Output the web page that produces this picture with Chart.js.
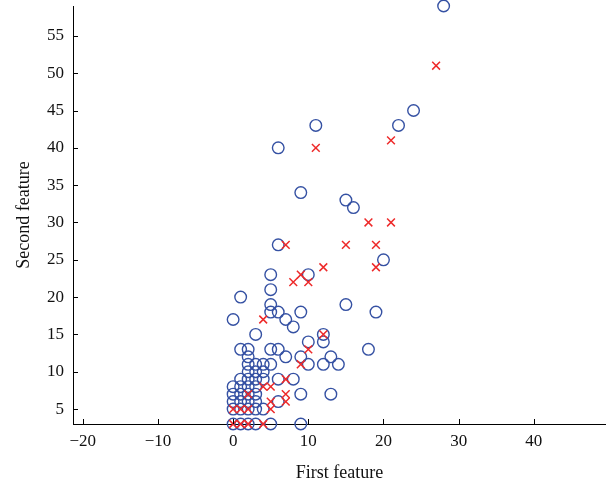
<!DOCTYPE html>
<html>
<head>
<meta charset="utf-8">
<script src="https://cdn.jsdelivr.net/npm/chart.js@4.4.1/dist/chart.umd.min.js"></script>
<style>
  html, body { margin: 0; padding: 0; background: #fff; overflow: hidden; }
  canvas { display: block; }
</style>
</head>
<body>
<canvas id="scatter" width="606" height="486"></canvas>
<script>
// class A (blue circles)
const circleX = [0,1,2,3,5,9, 0,1,2,3,4, 0,1,2,3,6, 0,1,2,3,9,13, 0,1,2,3,
  1,2,3,4,6,8, 2,3,4, 2,3,4,5,10,12,14, 2,7,9,13, 1,2,5,6,18, 10,12, 3,12,
  8, 0,7, 5,6,9,19, 5,15, 1, 5, 5,10, 20, 6, 16, 15, 9, 6, 11,22, 24, 28];
const circleY = [3,3,3,3,3,3, 5,5,5,5,5, 6,6,6,6,6, 7,7,7,7,7,7, 8,8,8,8,
  9,9,9,9,9,9, 10,10,10, 11,11,11,11,11,11,11, 12,12,12,12, 13,13,13,13,13, 14,14, 15,15,
  16, 17,17, 18,18,18,18, 19,19, 20, 21, 23,23, 25, 27, 32, 33, 34, 40, 43,43, 45, 59];

// class B (red crosses)
const crossX = [0,1,2,4, 0,1,2,5, 5,7, 2,7, 4,5, 7, 9, 10, 12, 4, 8,10, 9, 12,19, 7,15,19, 18,21, 11, 21, 27];
const crossY = [3,3,3,3, 5,5,5,5, 6,6, 7,7, 8,8, 9, 11, 13, 15, 17, 22,22, 23, 24,24, 27,27,27, 30,30, 40, 41, 51];

const xTickValues = [-20, -10, 0, 10, 20, 30, 40];
const yTickValues = [5, 10, 15, 20, 25, 30, 35, 40, 45, 50, 55];

const BLUE = "#3551a3";
const RED = "#ee2a2a";
const SERIF = "'Liberation Serif', 'DejaVu Serif', serif";

const toPoints = (xs, ys) => xs.map((x, i) => ({ x, y: ys[i] }));
const fmt = v => (v < 0 ? "\u2212" + Math.abs(v) : String(v));

// short tick marks pointing into the plot, matlab style
const innerTicks = {
  id: "innerTicks",
  afterDraw(chart) {
    const { ctx, chartArea, scales } = chart;
    ctx.save();
    ctx.strokeStyle = "#000";
    ctx.lineWidth = 1;
    ctx.beginPath();
    scales.x.ticks.forEach(t => {
      const px = Math.round(scales.x.getPixelForValue(t.value)) + 0.5;
      ctx.moveTo(px, chartArea.bottom);
      ctx.lineTo(px, chartArea.bottom - 5);
    });
    scales.y.ticks.forEach(t => {
      const py = Math.round(scales.y.getPixelForValue(t.value)) + 0.5;
      ctx.moveTo(chartArea.left, py);
      ctx.lineTo(chartArea.left + 5, py);
    });
    ctx.stroke();
    ctx.restore();
  }
};

new Chart(document.getElementById("scatter"), {
  type: "scatter",
  data: {
    datasets: [
      {
        label: "B",
        data: toPoints(crossX, crossY),
        pointStyle: "crossRot",
        pointRadius: 5.5,
        pointBorderWidth: 1.5,
        borderColor: RED,
        backgroundColor: RED
      },
      {
        label: "A",
        data: toPoints(circleX, circleY),
        pointStyle: "circle",
        pointRadius: 5.8,
        pointBorderWidth: 1.4,
        borderColor: BLUE,
        backgroundColor: "rgba(0,0,0,0)"
      }
    ]
  },
  options: {
    responsive: false,
    animation: false,
    clip: false,
    layout: { autoPadding: false, padding: { top: 6, right: 0, left: 0, bottom: 0 } },
    plugins: {
      legend: { display: false },
      tooltip: { enabled: false }
    },
    scales: {
      x: {
        type: "linear",
        min: -21.3,
        max: 49.6,
        afterBuildTicks: scale => { scale.ticks = xTickValues.map(value => ({ value })); },
        afterFit: scale => {
          scale.height = 62;
          scale.paddingLeft = 0;
          scale.paddingRight = 0;
        },
        grid: { display: true, drawOnChartArea: false, drawTicks: false },
        border: { display: true, color: "#000", width: 1 },
        ticks: {
          padding: 7,
          color: "#111",
          font: { family: SERIF, size: 17 },
          callback: v => fmt(v)
        },
        title: {
          display: true,
          text: "First feature",
          color: "#111",
          font: { family: SERIF, size: 18 },
          padding: { top: 0, bottom: 2 }
        }
      },
      y: {
        type: "linear",
        min: 3,
        max: 59,
        afterBuildTicks: scale => { scale.ticks = yTickValues.map(value => ({ value })); },
        afterFit: scale => {
          scale.width = 73;
          scale.paddingTop = 0;
          scale.paddingBottom = 0;
        },
        grid: { display: true, drawOnChartArea: false, drawTicks: false },
        border: { display: true, color: "#000", width: 1 },
        ticks: {
          padding: 9,
          color: "#111",
          font: { family: SERIF, size: 17 },
          callback: v => fmt(v)
        },
        title: {
          display: true,
          text: "Second feature",
          color: "#111",
          font: { family: SERIF, size: 18 },
          padding: { top: 13, bottom: 0 }
        }
      }
    }
  },
  plugins: [innerTicks]
});
</script>
</body>
</html>
